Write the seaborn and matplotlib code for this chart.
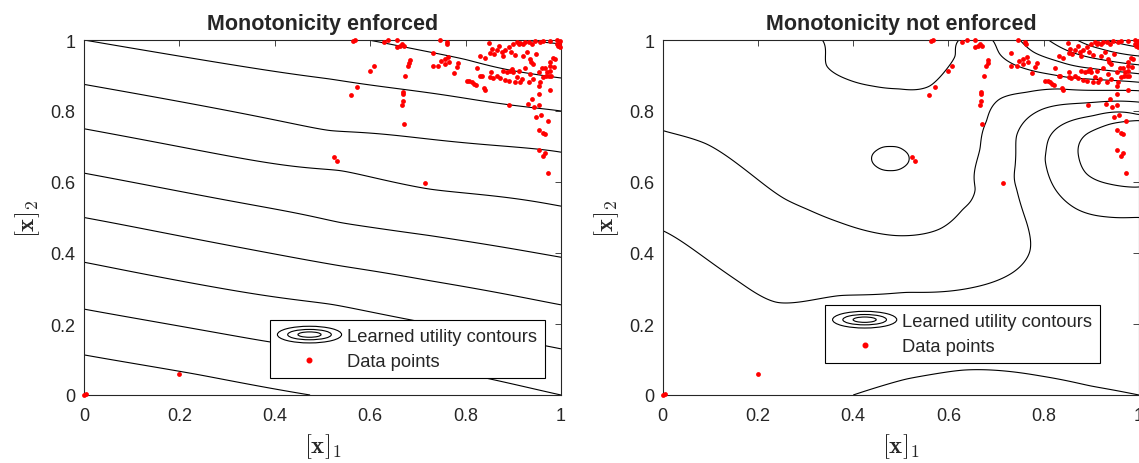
import numpy as np
import matplotlib
matplotlib.use('Agg')
import matplotlib.pyplot as plt
import seaborn as sns
from matplotlib.legend_handler import HandlerBase
from matplotlib.patches import Ellipse
from matplotlib.lines import Line2D
from matplotlib.ticker import FuncFormatter

# data points (same in both panels)
data_x = [0.0, 0.004, 0.200, 0.524, 0.530, 0.559, 0.572, 0.600, 0.608, 0.563, 0.568,
          0.628, 0.638, 0.656, 0.666, 0.747, 0.761, 0.762, 0.656, 0.663, 0.670,
          0.684, 0.682, 0.679, 0.674, 0.668, 0.668, 0.668, 0.666, 0.670, 0.715,
          0.731, 0.731, 0.743, 0.748, 0.757, 0.757, 0.764, 0.766, 0.775, 0.785, 0.782,
          0.803, 0.808, 0.813, 0.818, 0.822, 0.824, 0.831, 0.834, 0.838, 0.841,
          0.831, 0.841, 0.850, 0.852, 0.856, 0.860, 0.865, 0.871, 0.876, 0.879,
          0.883, 0.890, 0.899, 0.895, 0.903, 0.907, 0.911, 0.914, 0.920, 0.925,
          0.932, 0.939, 0.946, 0.956, 0.963, 0.977, 0.991, 0.998, 0.995, 0.920,
          0.928, 0.934, 0.937, 0.942, 0.948, 0.953, 0.960, 0.967, 0.970, 0.976,
          0.977, 0.984, 0.993, 0.997, 0.977, 0.979, 0.974, 0.963, 0.956, 0.954,
          0.953, 0.942, 0.932, 0.918, 0.914, 0.907, 0.900, 0.897, 0.893, 0.886,
          0.879, 0.872, 0.865, 0.858, 0.852, 0.854, 0.883, 0.890, 0.904, 0.911,
          0.925, 0.935, 0.892, 0.930, 0.939, 0.944, 0.954, 0.947, 0.958, 0.972,
          0.953, 0.963, 0.967, 0.953, 0.967, 0.963, 0.972, 0.977, 0.969, 0.986,
          0.988, 0.992]
data_y = [0.0, 0.004, 0.059, 0.671, 0.658, 0.846, 0.869, 0.914, 0.926, 0.998, 1.0,
          0.993, 1.0, 1.0, 0.989, 1.0, 0.995, 0.989, 0.979, 0.984, 0.982,
          0.944, 0.934, 0.926, 0.898, 0.854, 0.848, 0.829, 0.817, 0.763, 0.597,
          0.962, 0.926, 0.926, 0.942, 0.946, 0.932, 0.951, 0.939, 0.906, 0.934, 0.923,
          0.885, 0.884, 0.881, 0.876, 0.873, 0.921, 0.900, 0.898, 0.864, 0.859,
          0.956, 0.948, 0.991, 0.963, 0.975, 0.961, 0.973, 0.982, 0.967, 0.956,
          0.973, 0.979, 0.989, 0.965, 0.958, 0.993, 0.989, 0.992, 0.989, 0.993,
          0.993, 0.989, 0.998, 0.993, 0.998, 0.998, 1.0, 0.998, 0.989, 0.956,
          0.965, 0.946, 0.937, 0.932, 0.961, 0.911, 0.920, 0.920, 0.909, 0.926,
          0.939, 0.948, 0.984, 0.979, 0.914, 0.900, 0.900, 0.895, 0.881, 0.871,
          0.848, 0.890, 0.881, 0.890, 0.881, 0.895, 0.909, 0.918, 0.914, 0.911,
          0.914, 0.892, 0.898, 0.892, 0.895, 0.909, 0.888, 0.885, 0.883, 0.914,
          0.920, 0.904, 0.817, 0.820, 0.834, 0.810, 0.817, 0.782, 0.790, 0.771,
          0.747, 0.738, 0.735, 0.691, 0.682, 0.674, 0.625, 0.859, 0.900, 0.923,
          0.946, 0.989]

# contour samples: (x, y, level)
mono_x = [0.0, 0.237, 0.474,
          0.0, 0.397, 0.82, 1.0,
          0.0, 0.52, 1.0,
          0.0, 0.537, 0.725, 1.0,
          0.0, 0.537, 0.725, 1.0,
          0.0, 0.537, 0.725, 1.0,
          0.0, 0.516, 1.0,
          0.0, 0.516, 1.0,
          0.596, 0.8, 1.0,
          0.88, 0.935, 1.0]
mono_y = [0.113, 0.058, 0.0,
          0.242, 0.148, 0.054, 0.0,
          0.374, 0.255, 0.13,
          0.50, 0.364, 0.322, 0.254,
          0.625, 0.486, 0.449, 0.388,
          0.75, 0.632, 0.58, 0.532,
          0.875, 0.745, 0.684,
          1.0, 0.89, 0.80,
          1.0, 0.945, 0.893,
          1.01, 0.998, 0.989]
mono_u = [1, 1, 1,
          2, 2, 2, 2,
          3, 3, 3,
          4, 4, 4, 4,
          5, 5, 5, 5,
          6, 6, 6, 6,
          7, 7, 7,
          8, 8, 8,
          9, 9, 9,
          10, 10, 10]
mono_levels = [1, 2, 3, 4, 5, 6, 7, 8, 9, 10]

# contour samples, plus a few interior values
free_x = [0.872, 0.89, 0.939, 1.0, 0.89, 0.939, 1.0,
          1.0, 0.904, 0.841, 0.81, 0.803, 0.824, 0.869, 0.93, 1.0,
          0.40, 0.512, 0.63, 0.792, 0.897, 1.0,
          0.0, 0.092, 0.162, 0.24, 0.372, 0.512, 0.652, 0.736, 0.771, 0.764,
          0.743, 0.74, 0.743, 0.764, 0.799, 0.855, 1.0,
          0.0, 0.092, 0.162, 0.257, 0.302, 0.372, 0.491, 0.582, 0.631, 0.645,
          0.656, 0.666, 0.68, 0.708, 0.764, 0.834, 1.0,
          0.4385, 0.5175, 0.478, 0.478, 0.45, 0.506, 0.45, 0.506,
          0.335, 0.344, 0.386, 0.442, 0.498, 0.56, 0.585, 0.614, 0.622,
          0.692, 0.708, 0.729, 0.764, 0.85, 1.0,
          0.75, 0.78, 0.83, 0.9, 1.0,
          0.81, 0.85, 0.9, 1.0,
          0.87, 0.92, 1.0,
          0.93, 0.96, 1.0,
          1.0, 0.84, 0.65, 0.478, 0.48,
          0.0, 0.1, 0.15, 0.65, 0.62,
          0.1, 0.5, 0.69,
          0.0, 0.1, 0.5, 0.9, 0.775, 1.0]
free_y = [0.684, 0.735, 0.763, 0.773, 0.623, 0.594, 0.586,
          0.79, 0.787, 0.763, 0.72, 0.665, 0.58, 0.524, 0.502, 0.50,
          0.0, 0.045, 0.07, 0.054, 0.026, 0.0,
          0.463, 0.383, 0.317, 0.261, 0.28, 0.289, 0.303, 0.346, 0.406, 0.486,
          0.58, 0.646, 0.73, 0.777, 0.806, 0.82, 0.825,
          0.745, 0.707, 0.646, 0.552, 0.524, 0.486, 0.449, 0.468, 0.524, 0.543,
          0.58, 0.693, 0.773, 0.834, 0.853, 0.862, 0.857,
          0.666, 0.666, 0.70, 0.632, 0.69, 0.69, 0.642, 0.642,
          1.0, 0.928, 0.89, 0.87, 0.862, 0.87, 0.90, 0.956, 1.0,
          1.0, 0.96, 0.937, 0.918, 0.895, 0.881,
          1.0, 0.965, 0.94, 0.92, 0.905,
          1.0, 0.97, 0.95, 0.93,
          1.0, 0.975, 0.955,
          1.0, 0.99, 0.98,
          0.68, 0.67, 0.0, 0.666, 0.96,
          1.0, 0.95, 0.80, 0.95, 0.78,
          0.55, 0.37, 0.60,
          0.0, 0.15, 0.15, 0.30, 0.68, 0.25]
free_u = [-1, -1, -1, -1, -1, -1, -1,
          0, 0, 0, 0, 0, 0, 0, 0, 0,
          0, 0, 0, 0, 0, 0,
          1, 1, 1, 1, 1, 1, 1, 1, 1, 1,
          1, 1, 1, 1, 1, 1, 1,
          2, 2, 2, 2, 2, 2, 2, 2, 2, 2,
          2, 2, 2, 2, 2, 2, 2,
          3, 3, 3, 3, 3, 3, 3, 3,
          3, 3, 3, 3, 3, 3, 3, 3, 3,
          3, 3, 3, 3, 3, 3,
          4, 4, 4, 4, 4,
          5, 5, 5, 5,
          6, 6, 6,
          7, 7, 7,
          -1.5, -0.5, -0.25, 3.25, 3.3,
          2.7, 2.6, 2.4, 2.8, 2.4,
          1.5, 1.5, 1.5,
          0.5, 0.5, 0.5, 0.4, 0.5, 0.3]
free_levels = [-1, 0, 1, 2, 3, 4, 5, 6, 7]


def tps_surface(sx, sy, sv, gx, gy, smooth=1e-6):
    sx, sy, sv = np.asarray(sx, float), np.asarray(sy, float), np.asarray(sv, float)
    n = len(sx)

    def kern(r):
        with np.errstate(divide='ignore', invalid='ignore'):
            k = r ** 2 * np.log(r)
        return np.nan_to_num(k)

    r = np.hypot(sx[:, None] - sx[None, :], sy[:, None] - sy[None, :])
    P = np.column_stack([np.ones(n), sx, sy])
    A = np.zeros((n + 3, n + 3))
    A[:n, :n] = kern(r) + smooth * np.eye(n)
    A[:n, n:] = P
    A[n:, :n] = P.T
    coef = np.linalg.solve(A, np.concatenate([sv, np.zeros(3)]))
    w, a = coef[:n], coef[n:]
    fx, fy = gx.ravel(), gy.ravel()
    rg = np.hypot(fx[:, None] - sx[None, :], fy[:, None] - sy[None, :])
    z = kern(rg) @ w + a[0] + a[1] * fx + a[2] * fy
    return z.reshape(gx.shape)


class HandlerContour(HandlerBase):
    def create_artists(self, legend, orig_handle, xdescent, ydescent,
                       width, height, fontsize, trans):
        cx, cy = width / 2 - xdescent, height / 2 - ydescent
        arts = []
        for fw, fh in [(1.0, 1.0), (0.68, 0.62), (0.36, 0.32)]:
            e = Ellipse((cx, cy), width * fw, height * 1.3 * fh, fill=False,
                        edgecolor='black', linewidth=0.8, transform=trans)
            arts.append(e)
        return arts


sns.set_style('white')
plt.rcParams['font.family'] = ['Liberation Sans', 'DejaVu Sans']
plt.rcParams['mathtext.fontset'] = 'cm'

fig = plt.figure(figsize=(11.39, 4.64), dpi=100)
ax1 = fig.add_axes([84 / 1139, 68 / 464, 477 / 1139, 355 / 464])
ax2 = fig.add_axes([662.7 / 1139, 68 / 464, 476.3 / 1139, 355 / 464])

gx, gy = np.meshgrid(np.linspace(0, 1, 241), np.linspace(0, 1, 241))

panels = [
    (ax1, 'Monotonicity enforced', mono_x, mono_y, mono_u, mono_levels, (0.966, 0.048)),
    (ax2, 'Monotonicity not enforced', free_x, free_y, free_u, free_levels, (0.918, 0.09)),
]

for ax, title, sx, sy, su, levels, anchor in panels:
    gz = tps_surface(sx, sy, su, gx, gy)
    ax.contour(gx, gy, gz, levels=levels, colors='black', linewidths=0.8,
               linestyles='solid')
    sns.scatterplot(x=data_x, y=data_y, ax=ax, color='red', s=12, linewidth=0,
                    zorder=3, clip_on=False, legend=False)

    ax.set_xlim(0, 1)
    ax.set_ylim(0, 1)
    ax.set_xticks(np.linspace(0, 1, 6))
    ax.set_yticks(np.linspace(0, 1, 6))
    fmt = FuncFormatter(lambda v, p: f'{v:g}')
    ax.xaxis.set_major_formatter(fmt)
    ax.yaxis.set_major_formatter(fmt)
    ax.tick_params(direction='in', top=True, right=True, length=4.5, width=0.6,
                   color='#262626', labelsize=13, labelcolor='#262626')
    ax.tick_params(axis='x', pad=9)
    ax.tick_params(axis='y', pad=6)
    for s in ax.spines.values():
        s.set_color('#262626')
        s.set_linewidth(0.8)

    ax.set_title(title, fontsize=15.5, fontweight='bold', pad=8)
    ax.set_xlabel(r'$[\mathbf{x}]_1$', fontsize=18, labelpad=5, color='#262626')
    ax.set_ylabel(r'$[\mathbf{x}]_2$', fontsize=18, labelpad=6, color='#262626')

    key = Ellipse((0, 0), 1, 1)
    dot = Line2D([], [], ls='none', marker='o', markersize=3.3, color='red')
    leg = ax.legend([key, dot], ['Learned utility contours', 'Data points'],
                    handler_map={key: HandlerContour()}, loc='lower right',
                    bbox_to_anchor=anchor, borderaxespad=0, frameon=True,
                    fancybox=False, edgecolor='black', framealpha=1, fontsize=13.2,
                    handlelength=3.5, handletextpad=0.3, borderpad=0.42,
                    labelspacing=0.45)
    leg.get_frame().set_linewidth(0.8)
    leg.set_zorder(5)

fig.savefig('out.png', dpi=100)
